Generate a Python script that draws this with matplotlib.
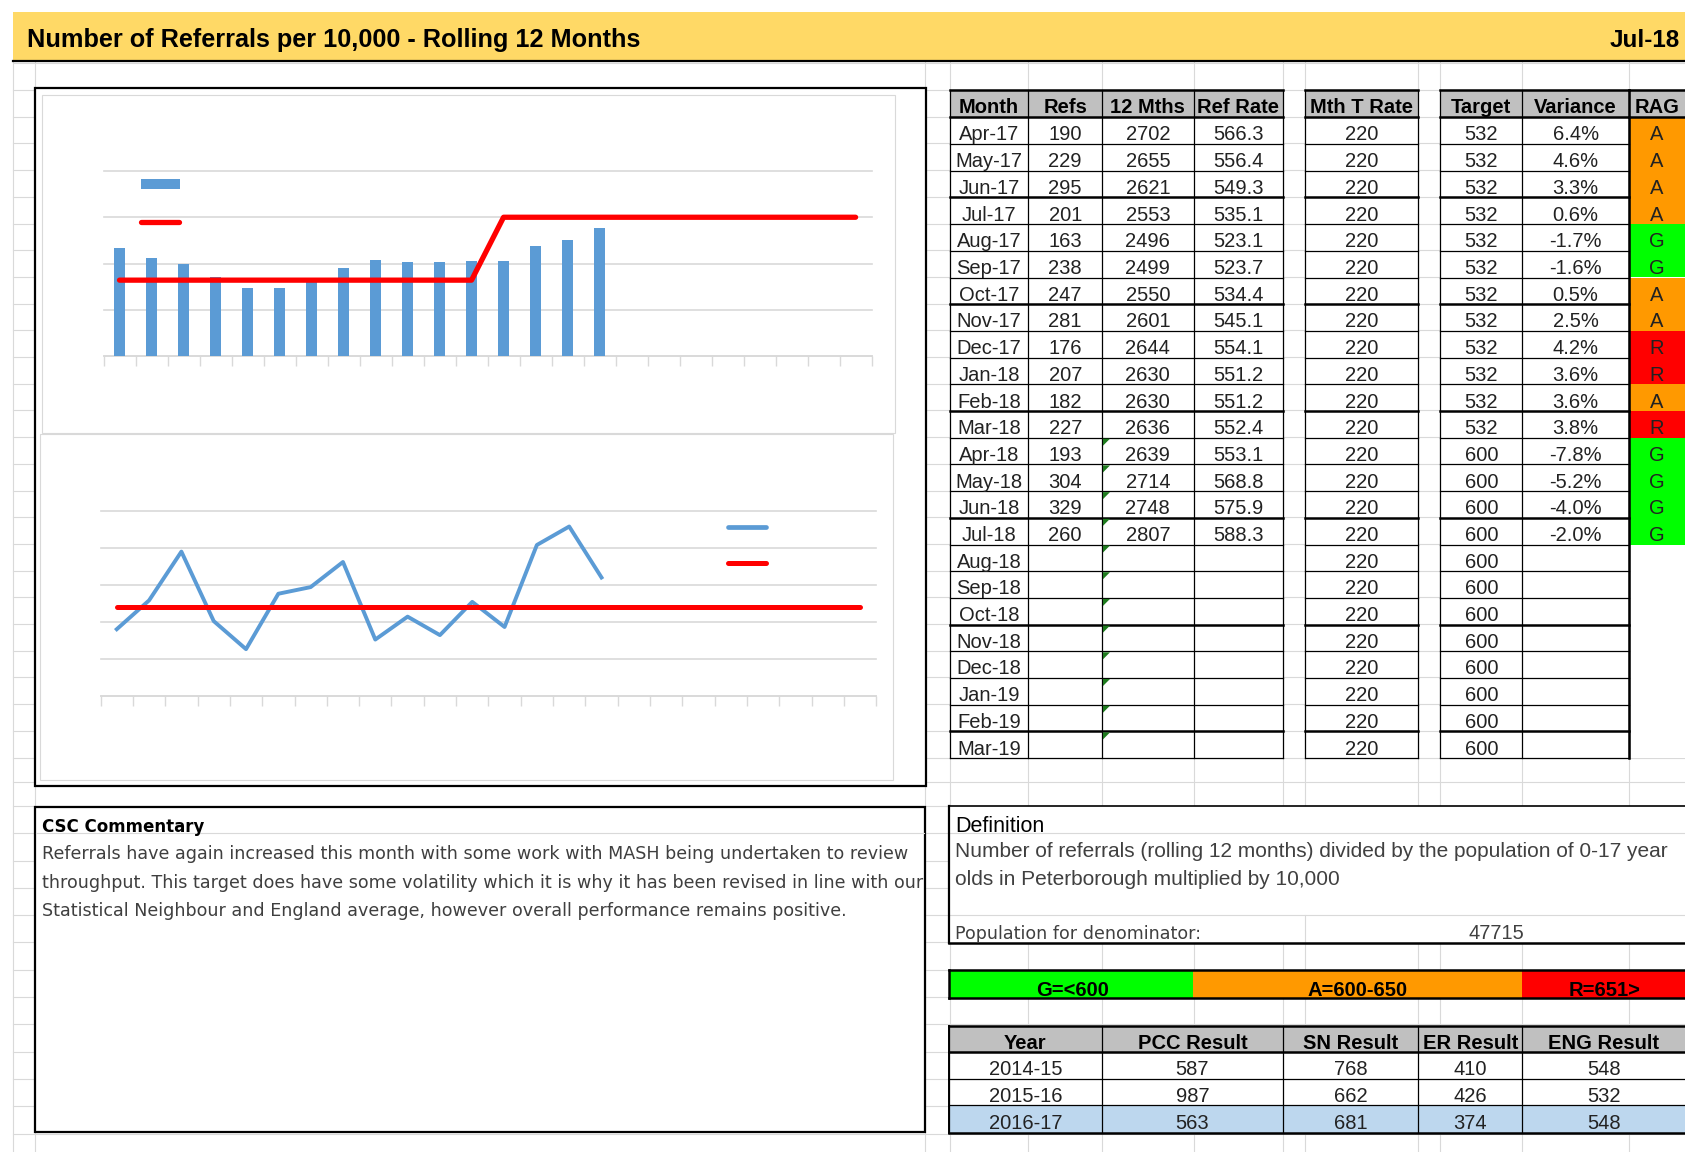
import matplotlib
matplotlib.use('Agg')
import matplotlib.pyplot as plt
from matplotlib.patches import Rectangle, Polygon
import numpy as np

# ---- data ----
months = ['Apr-17', 'May-17', 'Jun-17', 'Jul-17', 'Aug-17', 'Sep-17', 'Oct-17', 'Nov-17',
          'Dec-17', 'Jan-18', 'Feb-18', 'Mar-18', 'Apr-18', 'May-18', 'Jun-18', 'Jul-18',
          'Aug-18', 'Sep-18', 'Oct-18', 'Nov-18', 'Dec-18', 'Jan-19', 'Feb-19', 'Mar-19']
refs = [190, 229, 295, 201, 163, 238, 247, 281, 176, 207, 182, 227, 193, 304, 329, 260]
mths12 = [2702, 2655, 2621, 2553, 2496, 2499, 2550, 2601, 2644, 2630, 2630, 2636, 2639, 2714, 2748, 2807]
ref_rate = [566.3, 556.4, 549.3, 535.1, 523.1, 523.7, 534.4, 545.1, 554.1, 551.2, 551.2, 552.4,
            553.1, 568.8, 575.9, 588.3]
mth_t_rate = [220, 220, 220, 220, 220, 220, 220, 220, 220, 220, 220, 220,
              220, 220, 220, 220, 220, 220, 220, 220, 220, 220, 220, 220]
target = [532, 532, 532, 532, 532, 532, 532, 532, 532, 532, 532, 532,
          600, 600, 600, 600, 600, 600, 600, 600, 600, 600, 600, 600]
variance = [6.4, 4.6, 3.3, 0.6, -1.7, -1.6, 0.5, 2.5, 4.2, 3.6, 3.6, 3.8, -7.8, -5.2, -4.0, -2.0]
rag = ['A', 'A', 'A', 'A', 'G', 'G', 'A', 'A', 'R', 'R', 'A', 'R', 'G', 'G', 'G', 'G']

years = ['2014-15', '2015-16', '2016-17']
pcc_result = [587, 987, 563]
sn_result = [768, 662, 681]
er_result = [410, 426, 374]
eng_result = [548, 532, 548]

population = 47715

W, H = 1685, 1152
GRID = '#D9D9D9'
BLUE = '#5B9BD5'
RED = '#FF0000'
RAG_COL = {'A': '#FF9900', 'G': '#00FF00', 'R': '#FF0000'}
ARIAL = 'Liberation Sans'
BODY = 'DejaVu Sans'

fig = plt.figure(figsize=(W / 100, H / 100), dpi=100)
bg = fig.add_axes([0, 0, 1, 1])
bg.set_xlim(0, W)
bg.set_ylim(H, 0)
bg.axis('off')


def box(x0, y0, x1, y1, fc='white', ec='none', lw=0.0, z=2):
    bg.add_patch(Rectangle((x0, y0), x1 - x0, y1 - y0, facecolor=fc,
                           edgecolor=ec, linewidth=lw, zorder=z))


def hl(y, x0, x1, lw=0.8, c='black', z=4):
    bg.plot([x0, x1], [y, y], color=c, lw=lw, zorder=z, solid_capstyle='projecting')


def vl(x, y0, y1, lw=0.8, c='black', z=4):
    bg.plot([x, x], [y0, y1], color=c, lw=lw, zorder=z, solid_capstyle='projecting')


def px_rect(x0, y0, x1, y1):
    return [x0 / W, 1 - y1 / H, (x1 - x0) / W, (y1 - y0) / H]


# spreadsheet grid in the background
grid_cols = [13, 35, 925, 949.5, 1028.4, 1102, 1193.7, 1283, 1304.8, 1417.9, 1440.2, 1522.4, 1628.8]
grid_rows = list(np.arange(63.3, 760, 26.7)) + [782.0] + list(np.arange(806, H, 27.3))
for x in grid_cols:
    vl(x, 61, H, c=GRID, z=0)
for y in grid_rows:
    hl(y, 13, W, c=GRID, z=0)

# title band
box(13, 12, W, 61, fc='#FFD966', z=2)
hl(61, 13, W, lw=1.6)
bg.text(26.7, 47, 'Number of Referrals per 10,000 - Rolling 12 Months', fontsize=18.2,
        fontweight='bold', family=ARIAL, va='baseline', ha='left', zorder=5)
bg.text(1680, 47, 'Jul-18', fontsize=17.5, fontweight='bold', family=ARIAL,
        va='baseline', ha='right', zorder=5)

# chart container + chart areas
box(34.6, 88.3, 925.5, 786, ec='black', lw=1.6, z=2)
box(41.5, 95, 895, 433, ec=GRID, lw=0.8, z=3)
box(40, 434, 893, 780, ec=GRID, lw=0.8, z=3)

x_all = np.arange(len(months))
x_act = np.arange(len(ref_rate))


def style_chart(ax, ylo, yhi, step):
    ax.set_facecolor('none')
    ax.set_xlim(-0.5, len(months) - 0.5)
    ax.set_ylim(ylo, yhi)
    ax.set_yticks(np.arange(ylo, yhi + 1, step))
    ax.yaxis.grid(True, color=GRID, lw=1.2)
    for gl in ax.get_ygridlines():
        gl.set_clip_on(False)
    ax.set_xticks(np.arange(-0.5, len(months), 1))
    ax.tick_params(axis='y', length=0, labelleft=False)
    ax.tick_params(axis='x', length=7, width=1, color=GRID, labelbottom=False)
    for s in ['top', 'left', 'right']:
        ax.spines[s].set_visible(False)
    ax.spines['bottom'].set_color(GRID)
    ax.spines['bottom'].set_linewidth(1.2)
    ax.set_axisbelow(True)


# chart 1: rolling 12 month rate vs target
ax1 = fig.add_axes(px_rect(103.5, 171, 871.6, 356))
style_chart(ax1, 450, 650, 50)
ax1.bar(x_act, ref_rate, width=0.32, color=BLUE, zorder=3)
ax1.plot(x_all, target, color=RED, lw=3.8, solid_capstyle='round', zorder=4)
box(140.8, 179.3, 180.4, 188.7, fc=BLUE, z=5)
bg.plot([141, 179], [222, 222], color=RED, lw=3.8, solid_capstyle='round', zorder=5)

# chart 2: monthly referrals vs monthly target rate
ax2 = fig.add_axes(px_rect(100.6, 511, 876.2, 695.7))
style_chart(ax2, 100, 350, 50)
ax2.plot(x_act, refs, color=BLUE, lw=2.8, zorder=3)
ax2.plot(x_all, mth_t_rate, color=RED, lw=3.6, solid_capstyle='round', zorder=4)
bg.plot([728, 766], [527.3, 527.3], color=BLUE, lw=3.4, solid_capstyle='round', zorder=5)
bg.plot([728, 766], [563.3, 563.3], color=RED, lw=3.6, solid_capstyle='round', zorder=5)

# ---- main table ----
hdr_top, hdr_bot, row_h = 90.0, 117.3, 26.7
n_rows = len(months)
thick_after = [2, 6, 10, 14, 18, 22]


def row_y(i):
    return hdr_bot + i * row_h


refs_s = [str(v) for v in refs]
mths12_s = [str(v) for v in mths12]
rate_s = ['%.1f' % v for v in ref_rate]
var_s = ['%.1f%%' % v for v in variance]
groups = [
    ([949.5, 1028.4, 1102, 1193.7, 1283], ['Month', 'Refs', '12 Mths', 'Ref Rate'],
     [months, refs_s, mths12_s, rate_s]),
    ([1304.8, 1417.9], ['Mth T Rate'], [[str(v) for v in mth_t_rate]]),
    ([1440.2, 1522.4, 1628.8], ['Target', 'Variance'], [[str(v) for v in target], var_s]),
]
TXT = '#222222'
for edges, heads, cols in groups:
    box(edges[0], hdr_top, edges[-1], hdr_bot, fc='#C0C0C0', z=2)
    box(edges[0], hdr_bot, edges[-1], row_y(n_rows), fc='white', z=2)
    for j, h in enumerate(heads):
        cx = (edges[j] + edges[j + 1]) / 2
        bg.text(cx, hdr_bot - 4, h, fontsize=14.5, fontweight='bold', family=ARIAL,
                ha='center', va='baseline', zorder=6)
        for i, v in enumerate(cols[j]):
            bg.text(cx, row_y(i + 1) - 3.5, v, fontsize=14.5, family=ARIAL, color=TXT,
                    ha='center', va='baseline', zorder=6)
    for x in edges:
        vl(x, hdr_top, row_y(n_rows), lw=0.9)
    hl(hdr_top, edges[0], edges[-1], lw=1.8)
    hl(hdr_bot, edges[0], edges[-1], lw=1.8)
    for i in range(1, n_rows + 1):
        hl(row_y(i), edges[0], edges[-1], lw=1.8 if (i - 1) in thick_after else 0.9)

# RAG column (cut by the page edge)
box(1628.8, hdr_top, W + 5, hdr_bot, fc='#C0C0C0', z=2)
box(1628.8, hdr_bot, W + 5, row_y(n_rows), fc='white', z=2)
hl(hdr_top, 1628.8, W + 5, lw=1.8)
hl(hdr_bot, 1628.8, W + 5, lw=1.8)
bg.text(1657, hdr_bot - 4, 'RAG', fontsize=14.5, fontweight='bold', family=ARIAL,
        ha='center', va='baseline', zorder=6)
for i, r in enumerate(rag):
    box(1628.8, row_y(i), W + 5, row_y(i + 1), fc=RAG_COL[r], z=3)
    bg.text(1657, row_y(i + 1) - 3.5, r, fontsize=14.5, family=ARIAL, color=TXT,
            ha='center', va='baseline', zorder=6)
vl(1628.8, hdr_top, row_y(n_rows), lw=1.8)

# green error markers in 12 Mths column
for i in range(12, n_rows):
    x0, y0 = 1102, row_y(i)
    bg.add_patch(Polygon([(x0 + 1, y0 + 1), (x0 + 8, y0 + 1), (x0 + 1, y0 + 8)],
                         closed=True, facecolor='#1E7B1E', edgecolor='none', zorder=7))

# ---- commentary ----
box(34.8, 806.7, 925, 1131.7, ec='black', lw=1.6, z=2)
hl(833, 36, 924, c=GRID, z=3)
bg.text(42, 831.7, 'CSC Commentary', fontsize=12, fontweight='bold', family=BODY,
        ha='left', va='baseline', zorder=6)
comment = ['Referrals have again increased this month with some work with MASH being undertaken to review',
           'throughput. This target does have some volatility which it is why it has been revised in line with our',
           'Statistical Neighbour and England average, however overall performance remains positive.']
for k, line in enumerate(comment):
    bg.text(42, 859 + k * 28.6, line, fontsize=12.6, family=BODY, color='#3F3F3F',
            ha='left', va='baseline', zorder=6)

# ---- definition ----
box(948.5, 806, W + 5, 942.7, fc='white', z=2)
hl(833, 949, W, c=GRID, z=3)
hl(915, 949, W, c=GRID, z=3)
vl(1304.8, 915, 942.7, c=GRID, z=3)
hl(806, 948.5, W + 5, lw=1.2)
hl(942.7, 948.5, W + 5, lw=1.8)
vl(948.5, 806, 942.7, lw=1.6)
bg.text(955, 832, 'Definition', fontsize=15.5, family=ARIAL, ha='left', va='baseline', zorder=6)
definition = ['Number of referrals (rolling 12 months) divided by the population of 0-17 year',
              'olds in Peterborough multiplied by 10,000']
for k, line in enumerate(definition):
    bg.text(955, 857 + k * 28, line, fontsize=15, family=ARIAL, color='#404040',
            ha='left', va='baseline', zorder=6)
bg.text(955, 939, 'Population for denominator:', fontsize=12.6, family=BODY, color='#404040',
        ha='left', va='baseline', zorder=6)
bg.text(1496, 939, str(population), fontsize=14.5, family=ARIAL, color='#404040',
        ha='center', va='baseline', zorder=6)

# ---- RAG thresholds band ----
band = [(948.5, 1192.7, '#00FF00', 'G=<600', 1073),
        (1192.7, 1522.4, '#FF9900', 'A=600-650', 1358),
        (1522.4, W + 5, '#FF0000', 'R=651>', 1605)]
for x0, x1, c, label, cx in band:
    box(x0, 970, x1, 997.7, fc=c, z=2)
    bg.text(cx, 995.5, label, fontsize=14.5, fontweight='bold', family=ARIAL,
            ha='center', va='baseline', zorder=6)
hl(970, 948.5, W + 5, lw=1.8)
hl(997.7, 948.5, W + 5, lw=1.8)
vl(948.5, 970, 997.7, lw=1.8)

# ---- benchmark table ----
bt_cols = [948.5, 1102, 1283, 1417.9, 1522.4, W + 5]
bt_rows = [1026, 1052.3, 1078.7, 1105.3, 1132.7]
bt_heads = ['Year', 'PCC Result', 'SN Result', 'ER Result', 'ENG Result']
bt_data = [years, [str(v) for v in pcc_result], [str(v) for v in sn_result],
           [str(v) for v in er_result], [str(v) for v in eng_result]]
box(bt_cols[0], bt_rows[0], bt_cols[-1], bt_rows[1], fc='#C0C0C0', z=2)
box(bt_cols[0], bt_rows[1], bt_cols[-1], bt_rows[3], fc='white', z=2)
box(bt_cols[0], bt_rows[3], bt_cols[-1], bt_rows[4], fc='#BDD7EE', z=2)
for j, h in enumerate(bt_heads):
    cx = (bt_cols[j] + min(bt_cols[j + 1], W)) / 2
    bg.text(cx, bt_rows[1] - 3.5, h, fontsize=14.5, fontweight='bold', family=ARIAL,
            ha='center', va='baseline', zorder=6)
    for i, v in enumerate(bt_data[j]):
        bg.text(cx, bt_rows[i + 2] - 3.5, v, fontsize=14.5, family=ARIAL, color=TXT,
                ha='center', va='baseline', zorder=6)
for x in bt_cols[:-1]:
    vl(x, bt_rows[0], bt_rows[-1], lw=0.9)
vl(bt_cols[0], bt_rows[0], bt_rows[-1], lw=1.4)
for k, y in enumerate(bt_rows):
    hl(y, bt_cols[0], bt_cols[-1], lw=1.8 if k in (0, 1, 4) else 0.9)

fig.savefig('out.png', dpi=100)
